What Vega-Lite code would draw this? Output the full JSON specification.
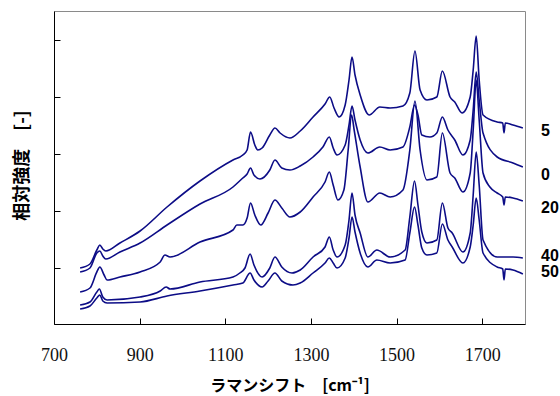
{
  "$schema": "https://vega.github.io/schema/vega-lite/v6.json",
  "width": 471,
  "height": 313,
  "autosize": {"type": "none"},
  "padding": {"left": 54, "top": 11, "right": 35, "bottom": 72},
  "background": "white",
  "config": {"view": {"stroke": "#8a8a8a", "strokeWidth": 1}},
  "datasets": {
    "spectra": [
      {"s":"5","x":761,"y":56},{"s":"5","x":784,"y":60},{"s":"5","x":800,"y":74},{"s":"5","x":807,"y":79},{"s":"5","x":814,"y":75},{"s":"5","x":821,"y":73},{"s":"5","x":854,"y":81},{"s":"5","x":901,"y":93},{"s":"5","x":964,"y":117},{"s":"5","x":1041,"y":143},{"s":"5","x":1118,"y":164},{"s":"5","x":1141,"y":169},{"s":"5","x":1151,"y":174},{"s":"5","x":1159,"y":192},{"s":"5","x":1169,"y":179},{"s":"5","x":1176,"y":174},{"s":"5","x":1186,"y":176},{"s":"5","x":1204,"y":189},{"s":"5","x":1216,"y":196},{"s":"5","x":1228,"y":191},{"s":"5","x":1251,"y":186},{"s":"5","x":1275,"y":193},{"s":"5","x":1305,"y":207},{"s":"5","x":1333,"y":220},{"s":"5","x":1344,"y":227},{"s":"5","x":1354,"y":216},{"s":"5","x":1366,"y":207},{"s":"5","x":1380,"y":219},{"s":"5","x":1389,"y":244},{"s":"5","x":1396,"y":267},{"s":"5","x":1403,"y":249},{"s":"5","x":1415,"y":229},{"s":"5","x":1436,"y":209},{"s":"5","x":1461,"y":217},{"s":"5","x":1485,"y":216},{"s":"5","x":1515,"y":218},{"s":"5","x":1531,"y":231},{"s":"5","x":1543,"y":273},{"s":"5","x":1555,"y":234},{"s":"5","x":1571,"y":224},{"s":"5","x":1594,"y":227},{"s":"5","x":1607,"y":253},{"s":"5","x":1625,"y":227},{"s":"5","x":1636,"y":222},{"s":"5","x":1653,"y":211},{"s":"5","x":1672,"y":227},{"s":"5","x":1679,"y":254},{"s":"5","x":1686,"y":288},{"s":"5","x":1693,"y":244},{"s":"5","x":1702,"y":209},{"s":"5","x":1735,"y":202},{"s":"5","x":1748,"y":201},{"s":"5","x":1751,"y":191},{"s":"5","x":1754,"y":201},{"s":"5","x":1772,"y":199},{"s":"5","x":1795,"y":196},
      {"s":"0","x":761,"y":52},{"s":"0","x":784,"y":56},{"s":"0","x":800,"y":71},{"s":"0","x":807,"y":73},{"s":"0","x":814,"y":68},{"s":"0","x":821,"y":65},{"s":"0","x":854,"y":72},{"s":"0","x":901,"y":81},{"s":"0","x":964,"y":99},{"s":"0","x":1041,"y":120},{"s":"0","x":1118,"y":137},{"s":"0","x":1141,"y":146},{"s":"0","x":1151,"y":150},{"s":"0","x":1159,"y":156},{"s":"0","x":1167,"y":149},{"s":"0","x":1181,"y":145},{"s":"0","x":1204,"y":154},{"s":"0","x":1216,"y":164},{"s":"0","x":1232,"y":156},{"s":"0","x":1251,"y":154},{"s":"0","x":1275,"y":158},{"s":"0","x":1305,"y":167},{"s":"0","x":1328,"y":177},{"s":"0","x":1343,"y":187},{"s":"0","x":1352,"y":176},{"s":"0","x":1361,"y":169},{"s":"0","x":1380,"y":179},{"s":"0","x":1389,"y":199},{"s":"0","x":1396,"y":218},{"s":"0","x":1403,"y":204},{"s":"0","x":1415,"y":184},{"s":"0","x":1433,"y":171},{"s":"0","x":1461,"y":177},{"s":"0","x":1485,"y":174},{"s":"0","x":1515,"y":177},{"s":"0","x":1531,"y":197},{"s":"0","x":1542,"y":219},{"s":"0","x":1550,"y":209},{"s":"0","x":1559,"y":189},{"s":"0","x":1578,"y":187},{"s":"0","x":1594,"y":191},{"s":"0","x":1607,"y":207},{"s":"0","x":1620,"y":194},{"s":"0","x":1636,"y":184},{"s":"0","x":1655,"y":169},{"s":"0","x":1672,"y":184},{"s":"0","x":1679,"y":214},{"s":"0","x":1686,"y":252},{"s":"0","x":1693,"y":224},{"s":"0","x":1702,"y":191},{"s":"0","x":1735,"y":167},{"s":"0","x":1772,"y":161},{"s":"0","x":1795,"y":157},
      {"s":"20","x":761,"y":32},{"s":"20","x":784,"y":36},{"s":"20","x":800,"y":52},{"s":"20","x":807,"y":57},{"s":"20","x":817,"y":49},{"s":"20","x":824,"y":44},{"s":"20","x":854,"y":47},{"s":"20","x":901,"y":52},{"s":"20","x":948,"y":62},{"s":"20","x":959,"y":69},{"s":"20","x":971,"y":67},{"s":"20","x":1041,"y":82},{"s":"20","x":1118,"y":94},{"s":"20","x":1127,"y":99},{"s":"20","x":1141,"y":99},{"s":"20","x":1151,"y":106},{"s":"20","x":1159,"y":121},{"s":"20","x":1169,"y":109},{"s":"20","x":1183,"y":99},{"s":"20","x":1200,"y":111},{"s":"20","x":1216,"y":124},{"s":"20","x":1232,"y":116},{"s":"20","x":1251,"y":107},{"s":"20","x":1275,"y":112},{"s":"20","x":1305,"y":127},{"s":"20","x":1333,"y":142},{"s":"20","x":1343,"y":152},{"s":"20","x":1352,"y":139},{"s":"20","x":1363,"y":124},{"s":"20","x":1377,"y":134},{"s":"20","x":1387,"y":174},{"s":"20","x":1395,"y":209},{"s":"20","x":1401,"y":194},{"s":"20","x":1415,"y":157},{"s":"20","x":1433,"y":122},{"s":"20","x":1461,"y":131},{"s":"20","x":1485,"y":127},{"s":"20","x":1515,"y":134},{"s":"20","x":1531,"y":174},{"s":"20","x":1543,"y":223},{"s":"20","x":1555,"y":174},{"s":"20","x":1571,"y":144},{"s":"20","x":1594,"y":147},{"s":"20","x":1607,"y":191},{"s":"20","x":1625,"y":151},{"s":"20","x":1636,"y":146},{"s":"20","x":1655,"y":132},{"s":"20","x":1672,"y":151},{"s":"20","x":1679,"y":194},{"s":"20","x":1686,"y":244},{"s":"20","x":1693,"y":204},{"s":"20","x":1702,"y":151},{"s":"20","x":1718,"y":137},{"s":"20","x":1735,"y":131},{"s":"20","x":1748,"y":127},{"s":"20","x":1751,"y":119},{"s":"20","x":1754,"y":127},{"s":"20","x":1772,"y":126},{"s":"20","x":1795,"y":123},
      {"s":"40","x":761,"y":19},{"s":"40","x":784,"y":22},{"s":"40","x":800,"y":32},{"s":"40","x":806,"y":35},{"s":"40","x":814,"y":27},{"s":"40","x":824,"y":24},{"s":"40","x":901,"y":27},{"s":"40","x":948,"y":33},{"s":"40","x":962,"y":37},{"s":"40","x":971,"y":35},{"s":"40","x":1041,"y":42},{"s":"40","x":1118,"y":47},{"s":"40","x":1134,"y":51},{"s":"40","x":1146,"y":56},{"s":"40","x":1158,"y":70},{"s":"40","x":1167,"y":59},{"s":"40","x":1186,"y":47},{"s":"40","x":1204,"y":56},{"s":"40","x":1216,"y":67},{"s":"40","x":1232,"y":57},{"s":"40","x":1256,"y":51},{"s":"40","x":1275,"y":54},{"s":"40","x":1305,"y":67},{"s":"40","x":1333,"y":77},{"s":"40","x":1343,"y":87},{"s":"40","x":1352,"y":74},{"s":"40","x":1361,"y":67},{"s":"40","x":1380,"y":79},{"s":"40","x":1389,"y":104},{"s":"40","x":1396,"y":131},{"s":"40","x":1403,"y":109},{"s":"40","x":1415,"y":91},{"s":"40","x":1433,"y":67},{"s":"40","x":1454,"y":74},{"s":"40","x":1485,"y":67},{"s":"40","x":1520,"y":74},{"s":"40","x":1531,"y":107},{"s":"40","x":1542,"y":143},{"s":"40","x":1550,"y":119},{"s":"40","x":1559,"y":92},{"s":"40","x":1571,"y":81},{"s":"40","x":1594,"y":84},{"s":"40","x":1607,"y":121},{"s":"40","x":1620,"y":96},{"s":"40","x":1630,"y":91},{"s":"40","x":1655,"y":72},{"s":"40","x":1672,"y":91},{"s":"40","x":1679,"y":129},{"s":"40","x":1686,"y":172},{"s":"40","x":1693,"y":139},{"s":"40","x":1702,"y":84},{"s":"40","x":1735,"y":67},{"s":"40","x":1772,"y":67},{"s":"40","x":1795,"y":66},
      {"s":"50","x":761,"y":15},{"s":"50","x":784,"y":18},{"s":"50","x":800,"y":26},{"s":"50","x":807,"y":29},{"s":"50","x":814,"y":23},{"s":"50","x":824,"y":21},{"s":"50","x":901,"y":22},{"s":"50","x":964,"y":28},{"s":"50","x":1041,"y":33},{"s":"50","x":1118,"y":39},{"s":"50","x":1141,"y":41},{"s":"50","x":1158,"y":51},{"s":"50","x":1167,"y":44},{"s":"50","x":1186,"y":37},{"s":"50","x":1200,"y":43},{"s":"50","x":1216,"y":51},{"s":"50","x":1232,"y":43},{"s":"50","x":1258,"y":39},{"s":"50","x":1275,"y":41},{"s":"50","x":1305,"y":51},{"s":"50","x":1333,"y":61},{"s":"50","x":1343,"y":66},{"s":"50","x":1352,"y":61},{"s":"50","x":1361,"y":56},{"s":"50","x":1380,"y":66},{"s":"50","x":1389,"y":86},{"s":"50","x":1396,"y":107},{"s":"50","x":1403,"y":92},{"s":"50","x":1415,"y":71},{"s":"50","x":1433,"y":57},{"s":"50","x":1454,"y":64},{"s":"50","x":1485,"y":61},{"s":"50","x":1520,"y":64},{"s":"50","x":1531,"y":91},{"s":"50","x":1542,"y":117},{"s":"50","x":1550,"y":99},{"s":"50","x":1559,"y":76},{"s":"50","x":1571,"y":69},{"s":"50","x":1594,"y":71},{"s":"50","x":1607,"y":100},{"s":"50","x":1620,"y":84},{"s":"50","x":1630,"y":77},{"s":"50","x":1655,"y":61},{"s":"50","x":1672,"y":77},{"s":"50","x":1679,"y":99},{"s":"50","x":1686,"y":126},{"s":"50","x":1693,"y":104},{"s":"50","x":1702,"y":71},{"s":"50","x":1735,"y":57},{"s":"50","x":1748,"y":55},{"s":"50","x":1751,"y":44},{"s":"50","x":1754,"y":55},{"s":"50","x":1772,"y":54},{"s":"50","x":1795,"y":50}
    ],
    "labels": [
      {"label":"5","x":1800,"y":193},
      {"label":"0","x":1800,"y":149},
      {"label":"20","x":1800,"y":116.5},
      {"label":"40","x":1800,"y":68},
      {"label":"50","x":1800,"y":52.5}
    ]
  },
  "encoding": {
    "x": {
      "field": "x", "type": "quantitative",
      "scale": {"domain": [700, 1800], "nice": false, "zero": false},
      "axis": {
        "title": "ラマンシフト　[cm⁻¹]",
        "values": [700, 900, 1100, 1300, 1500, 1700],
        "format": "d",
        "grid": false, "tickSize": -6, "tickColor": "black", "domainColor": "black",
        "labelPadding": 42, "labelBaseline": "alphabetic", "labelFlush": false,
        "labelFont": "Liberation Sans Narrow", "labelFontSize": 18, "labelColor": "#111111",
        "titleFont": "Noto Sans CJK JP", "titleFontWeight": "bold", "titleFontSize": 16, "titleColor": "black",
        "titleY": 61, "titleBaseline": "middle"
      }
    },
    "y": {
      "field": "y", "type": "quantitative",
      "scale": {"domain": [0, 313], "nice": false, "zero": false},
      "axis": {
        "title": "相対強度　[-]",
        "values": [56, 113, 170, 227, 284],
        "labels": false, "grid": false, "tickSize": -6, "tickColor": "black", "domainColor": "black",
        "titleFont": "Noto Sans CJK JP", "titleFontWeight": "bold", "titleFontSize": 18, "titleColor": "black",
        "titleX": -32, "titleY": 154, "titleBaseline": "middle", "titleAlign": "center"
      }
    }
  },
  "layer": [
    {
      "data": {"name": "spectra"},
      "mark": {"type": "line", "color": "#0c0c86", "strokeWidth": 1.6, "interpolate": "monotone"},
      "encoding": {"detail": {"field": "s", "type": "nominal"}}
    },
    {
      "data": {"name": "labels"},
      "mark": {"type": "text", "align": "left", "baseline": "middle", "dx": 16, "font": "Liberation Sans", "fontWeight": "bold", "fontSize": 16, "color": "black"},
      "encoding": {"text": {"field": "label", "type": "nominal"}}
    }
  ]
}
